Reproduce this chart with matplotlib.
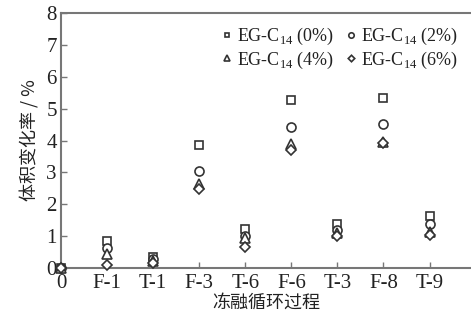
import matplotlib
matplotlib.use("Agg")
import matplotlib.pyplot as plt

plt.rcParams['font.family'] = ['Liberation Serif', 'Noto Sans CJK SC', 'DejaVu Sans']
plt.rcParams['mathtext.fontset'] = 'custom'
plt.rcParams['mathtext.rm'] = 'Liberation Serif'

categories = ['0', 'F-1', 'T-1', 'F-3', 'T-6', 'F-6', 'T-3', 'F-8', 'T-9']
eg0 = [0.0, 0.85, 0.33, 3.85, 1.22, 5.28, 1.38, 5.35, 1.64]
eg2 = [0.0, 0.63, 0.27, 3.04, 1.02, 4.41, 1.20, 4.51, 1.39]
eg4 = [0.0, 0.44, 0.22, 2.64, 0.95, 3.90, 1.10, 3.95, 1.12]
eg6 = [0.0, 0.10, 0.15, 2.48, 0.66, 3.70, 0.99, 3.91, 1.04]
labels = [r'EG-C$_{\mathregular{\scriptscriptstyle 14}}$ (0%)', r'EG-C$_{\mathregular{\scriptscriptstyle 14}}$ (2%)',
          r'EG-C$_{\mathregular{\scriptscriptstyle 14}}$ (4%)', r'EG-C$_{\mathregular{\scriptscriptstyle 14}}$ (6%)']
labels = [r'EG-C$_{14}$ (0%)', r'EG-C$_{14}$ (2%)', r'EG-C$_{14}$ (4%)', r'EG-C$_{14}$ (6%)']

fig = plt.figure(figsize=(4.71, 3.2), dpi=100)
ax = fig.add_axes([0.1295, 0.1625, 0.8705, 0.7965])

x = list(range(len(categories)))
col = '#333333'
series = [(eg0, 's', 5.5), (eg2, 'o', 6.5), (eg4, '^', 6.5), (eg6, 'D', 5.5)]
handles = []
for (vals, m, ms), lab in zip(series, labels):
    h, = ax.plot(x, vals, linestyle='none', marker=m, markersize=ms,
                 markerfacecolor='white', markeredgecolor=col, markeredgewidth=1.2,
                 label=lab, clip_on=False, zorder=3)
    handles.append(h)

ax.set_xlim(0, 8.9)
ax.set_ylim(0, 8)
ax.set_xticks(x)
ax.set_xticklabels(categories)
ax.set_yticks(range(0, 9))
ax.tick_params(direction='in', length=4, width=1, color='#777777', labelsize=15, labelcolor='#222222')
ax.tick_params(axis='x', pad=4)
ax.tick_params(axis='y', pad=3)

for s in ['left', 'bottom', 'top']:
    ax.spines[s].set_color('#777777')
    ax.spines[s].set_linewidth(1.5)
ax.spines['right'].set_visible(False)

ax.set_xlabel('冻融循环过程', fontsize=13, family=['Noto Sans CJK SC', 'DejaVu Sans'], labelpad=1, color='#222222')
ax.set_ylabel('体积变化率 / %', fontsize=13, family=['Noto Sans CJK SC', 'DejaVu Sans'], labelpad=5, color='#222222')

order = [handles[0], handles[2], handles[1], handles[3]]
leg = ax.legend(handles=order, ncol=2, loc='upper right', bbox_to_anchor=(1.0, 1.0),
                frameon=False, fontsize=13, handlelength=0.5, handletextpad=0.3,
                columnspacing=0.7, labelspacing=0.15, markerscale=0.6, borderaxespad=0.3)
for t in leg.get_texts():
    t.set_color('#222222')

fig.savefig('out.png', dpi=100)
